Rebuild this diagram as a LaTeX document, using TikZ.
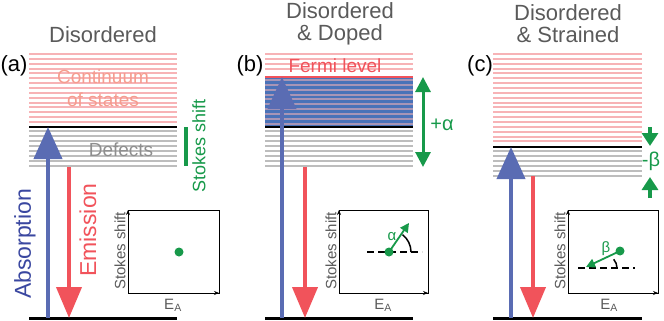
\documentclass[tikz,border=0pt]{standalone}
\usepackage{fontspec}
\setmainfont{Liberation Sans}
\usetikzlibrary{arrows.meta}
\definecolor{pinkline}{HTML}{F7B3B6}
\definecolor{grayline}{HTML}{BDBDBD}
\definecolor{absblue}{HTML}{5A6CB3}
\definecolor{abstext}{HTML}{3A47A0}
\definecolor{emred}{HTML}{F1535B}
\definecolor{stgreen}{HTML}{17994A}
\definecolor{titlegray}{HTML}{5A5A5A}
\definecolor{dopeblue}{HTML}{4A72B8}
\definecolor{contpink}{HTML}{F59C8E}

\begin{document}
\begin{tikzpicture}[x=1pt,y=-1pt,
title/.style={align=center,text=titlegray,font=\fontsize{22}{23}\selectfont},
plabel/.style={font=\fontsize{22}{24}\selectfont},
pline/.style={pinkline,line width=2pt},gline/.style={grayline,line width=2pt},
level/.style={line width=2.5pt},
absarr/.style={absblue,line width=4pt,-{Triangle[width=28pt,length=32pt]}},
emarr/.style={emred,line width=4pt,-{Triangle[width=25pt,length=31pt]}},
garr/.style={stgreen,line width=3pt,-{Triangle[width=15pt,length=15pt]}},
inbox/.style={draw,line width=0.7pt},
inaxis/.style={line width=0.8pt,-{Stealth[length=5pt,width=4pt]}},
inlabel/.style={text=titlegray,font=\fontsize{15}{16}\selectfont},
dot/.style={circle,fill=stgreen,inner sep=0pt,minimum size=9pt},
dline/.style={line width=2pt,dash pattern=on 7pt off 4pt},
inarr/.style={stgreen,line width=1.8pt,-{Triangle[width=9pt,length=9pt]}}]
\useasboundingbox (0,0) rectangle (664,321);
% titles
\node[title] (ta) at (103,35) {Disordered};
\node[title] (tb) at (340,24) {Disordered\\[-1pt]\& Doped};
\node[title] (tc) at (568,24) {Disordered\\[-1pt]\& Strained};
\node[plabel] (la) at (14,66) {(a)};
\node[plabel] (lb) at (250,66) {(b)};
\node[plabel] (lc) at (480,66) {(c)};
% (a) disordered
\foreach \k in {0,...,14} \draw[pline] (29,54+4.86*\k) -- (177,54+4.86*\k);
\foreach \k in {0,...,7} \draw[gline] (29,131+5*\k) -- (177,131+5*\k);
\draw[level] (29,127) -- (177,127);
\draw[level] (29,318.5) -- (177,318.5);
\node[align=center,text=contpink,font=\fontsize{19}{23}\selectfont] (cont) at (103,88) {Continuum\\of states};
\node[text=grayline!75!black,font=\fontsize{19}{20}\selectfont] (def) at (121,150) {Defects};
\coordinate (a1) at (48,318); \coordinate (a2) at (48,127);
\coordinate (e1) at (69,167); \coordinate (e2) at (69,318);
\draw[absarr] (a1) -- (a2);
\draw[emarr] (e1) -- (e2);
\node[rotate=90,text=abstext,font=\fontsize{23}{24}\selectfont] (abs) at (25,244) {Absorption};
\node[rotate=90,text=emred,font=\fontsize{23}{24}\selectfont] (em) at (88,230) {Emission};
\coordinate (s1) at (186,127); \coordinate (s2) at (186,166);
\draw[stgreen,line width=4pt] (s1) -- (s2);
\node[rotate=90,text=stgreen,font=\fontsize{18}{19}\selectfont] (st) at (199,146) {Stokes shift};
\coordinate (ia) at (128,293);
\draw[inbox] (128,210) rectangle (219,293);
\draw[inaxis] (ia) -- (128,210); \draw[inaxis] (ia) -- (219,293);
\node[inlabel,rotate=90] (ya) at (120,251) {Stokes shift};
\node[inlabel] (xa) at (173,305) {E\textsubscript{A}};
\node[dot] (da) at (179,252) {};
% (b) doped
\foreach \k in {0,...,3} \draw[pline] (265,54+4.86*\k) -- (413,54+4.86*\k);
\fill[dopeblue] (265,78) rectangle (413,126);
\foreach \k in {0,...,9} \draw[pline,opacity=0.55] (265,80+4.86*\k) -- (413,80+4.86*\k);
\foreach \k in {0,...,7} \draw[gline] (265,131+5*\k) -- (413,131+5*\k);
\draw[emred,line width=2.5pt] (265,77) -- (413,77);
\draw[level] (265,127) -- (413,127);
\draw[level] (265,318.5) -- (413,318.5);
\node[text=emred,font=\fontsize{19}{20}\selectfont] (fermi) at (335,66) {Fermi level};
\coordinate (b1) at (282,318); \coordinate (b2) at (282,77);
\coordinate (f1) at (305,167); \coordinate (f2) at (305,318);
\draw[absarr] (b1) -- (b2);
\draw[emarr] (f1) -- (f2);
\coordinate (p1) at (423,77); \coordinate (p2) at (423,167);
\draw[garr,{Triangle[width=15pt,length=15pt]}-{Triangle[width=15pt,length=15pt]}] (p1) -- (p2);
\node[text=stgreen,font=\fontsize{20}{21}\selectfont] (alpha) at (442,125) {+α};
\coordinate (ib) at (339,293);
\draw[inbox] (339,210) rectangle (428,293);
\draw[inaxis] (ib) -- (339,210); \draw[inaxis] (ib) -- (428,293);
\node[inlabel,rotate=90] (yb) at (331,251) {Stokes shift};
\node[inlabel] (xb) at (383,305) {E\textsubscript{A}};
\coordinate (db1) at (367,252); \coordinate (db2) at (422,252);
\draw[dline] (db1) -- (db2);
\draw[line width=1.5pt] (411,252) arc[start angle=0,end angle=-52,radius=22];
\node[dot] (db) at (389,252) {};
\coordinate (ab) at (409,223);
\draw[inarr] (db.center) -- (ab);
\node[text=stgreen,font=\fontsize{15}{16}\selectfont] (al) at (392,237) {α};
% (c) strained
\foreach \k in {0,...,18} \draw[pline] (493,54+4.86*\k) -- (642,54+4.86*\k);
\foreach \k in {0,...,5} \draw[gline] (493,151+5*\k) -- (642,151+5*\k);
\draw[level] (493,147) -- (642,147);
\draw[level] (493,318.5) -- (642,318.5);
\coordinate (c1) at (511,318); \coordinate (c2) at (511,147);
\coordinate (g1) at (533,176); \coordinate (g2) at (533,318);
\draw[absarr] (c1) -- (c2);
\draw[emarr] (g1) -- (g2);
\coordinate (q1) at (650,127); \coordinate (q2) at (650,146);
\coordinate (q3) at (650,198); \coordinate (q4) at (650,177);
\draw[garr,line width=4pt,-{Triangle[width=16pt,length=13pt]}] (q1) -- (q2);
\draw[garr,line width=4pt,-{Triangle[width=16pt,length=13pt]}] (q3) -- (q4);
\node[text=stgreen,font=\fontsize{20}{21}\selectfont] (beta) at (651,161) {-β};
\coordinate (ic) at (568,293);
\draw[inbox] (568,210) rectangle (658,293);
\draw[inaxis] (ic) -- (568,210); \draw[inaxis] (ic) -- (658,293);
\node[inlabel,rotate=90] (yc) at (560,251) {Stokes shift};
\node[inlabel] (xc) at (609,305) {E\textsubscript{A}};
\coordinate (dc1) at (578,268); \coordinate (dc2) at (635,268);
\draw[dline] (dc1) -- (dc2);
\draw[line width=1.5pt] (617,268) arc[start angle=0,end angle=-42,radius=13];
\node[dot] (dc) at (620,251) {};
\coordinate (ac) at (586,267);
\draw[inarr] (dc.center) -- (ac);
\node[text=stgreen,font=\fontsize{15}{16}\selectfont] (be) at (606,249) {β};
\end{tikzpicture}
\end{document}
